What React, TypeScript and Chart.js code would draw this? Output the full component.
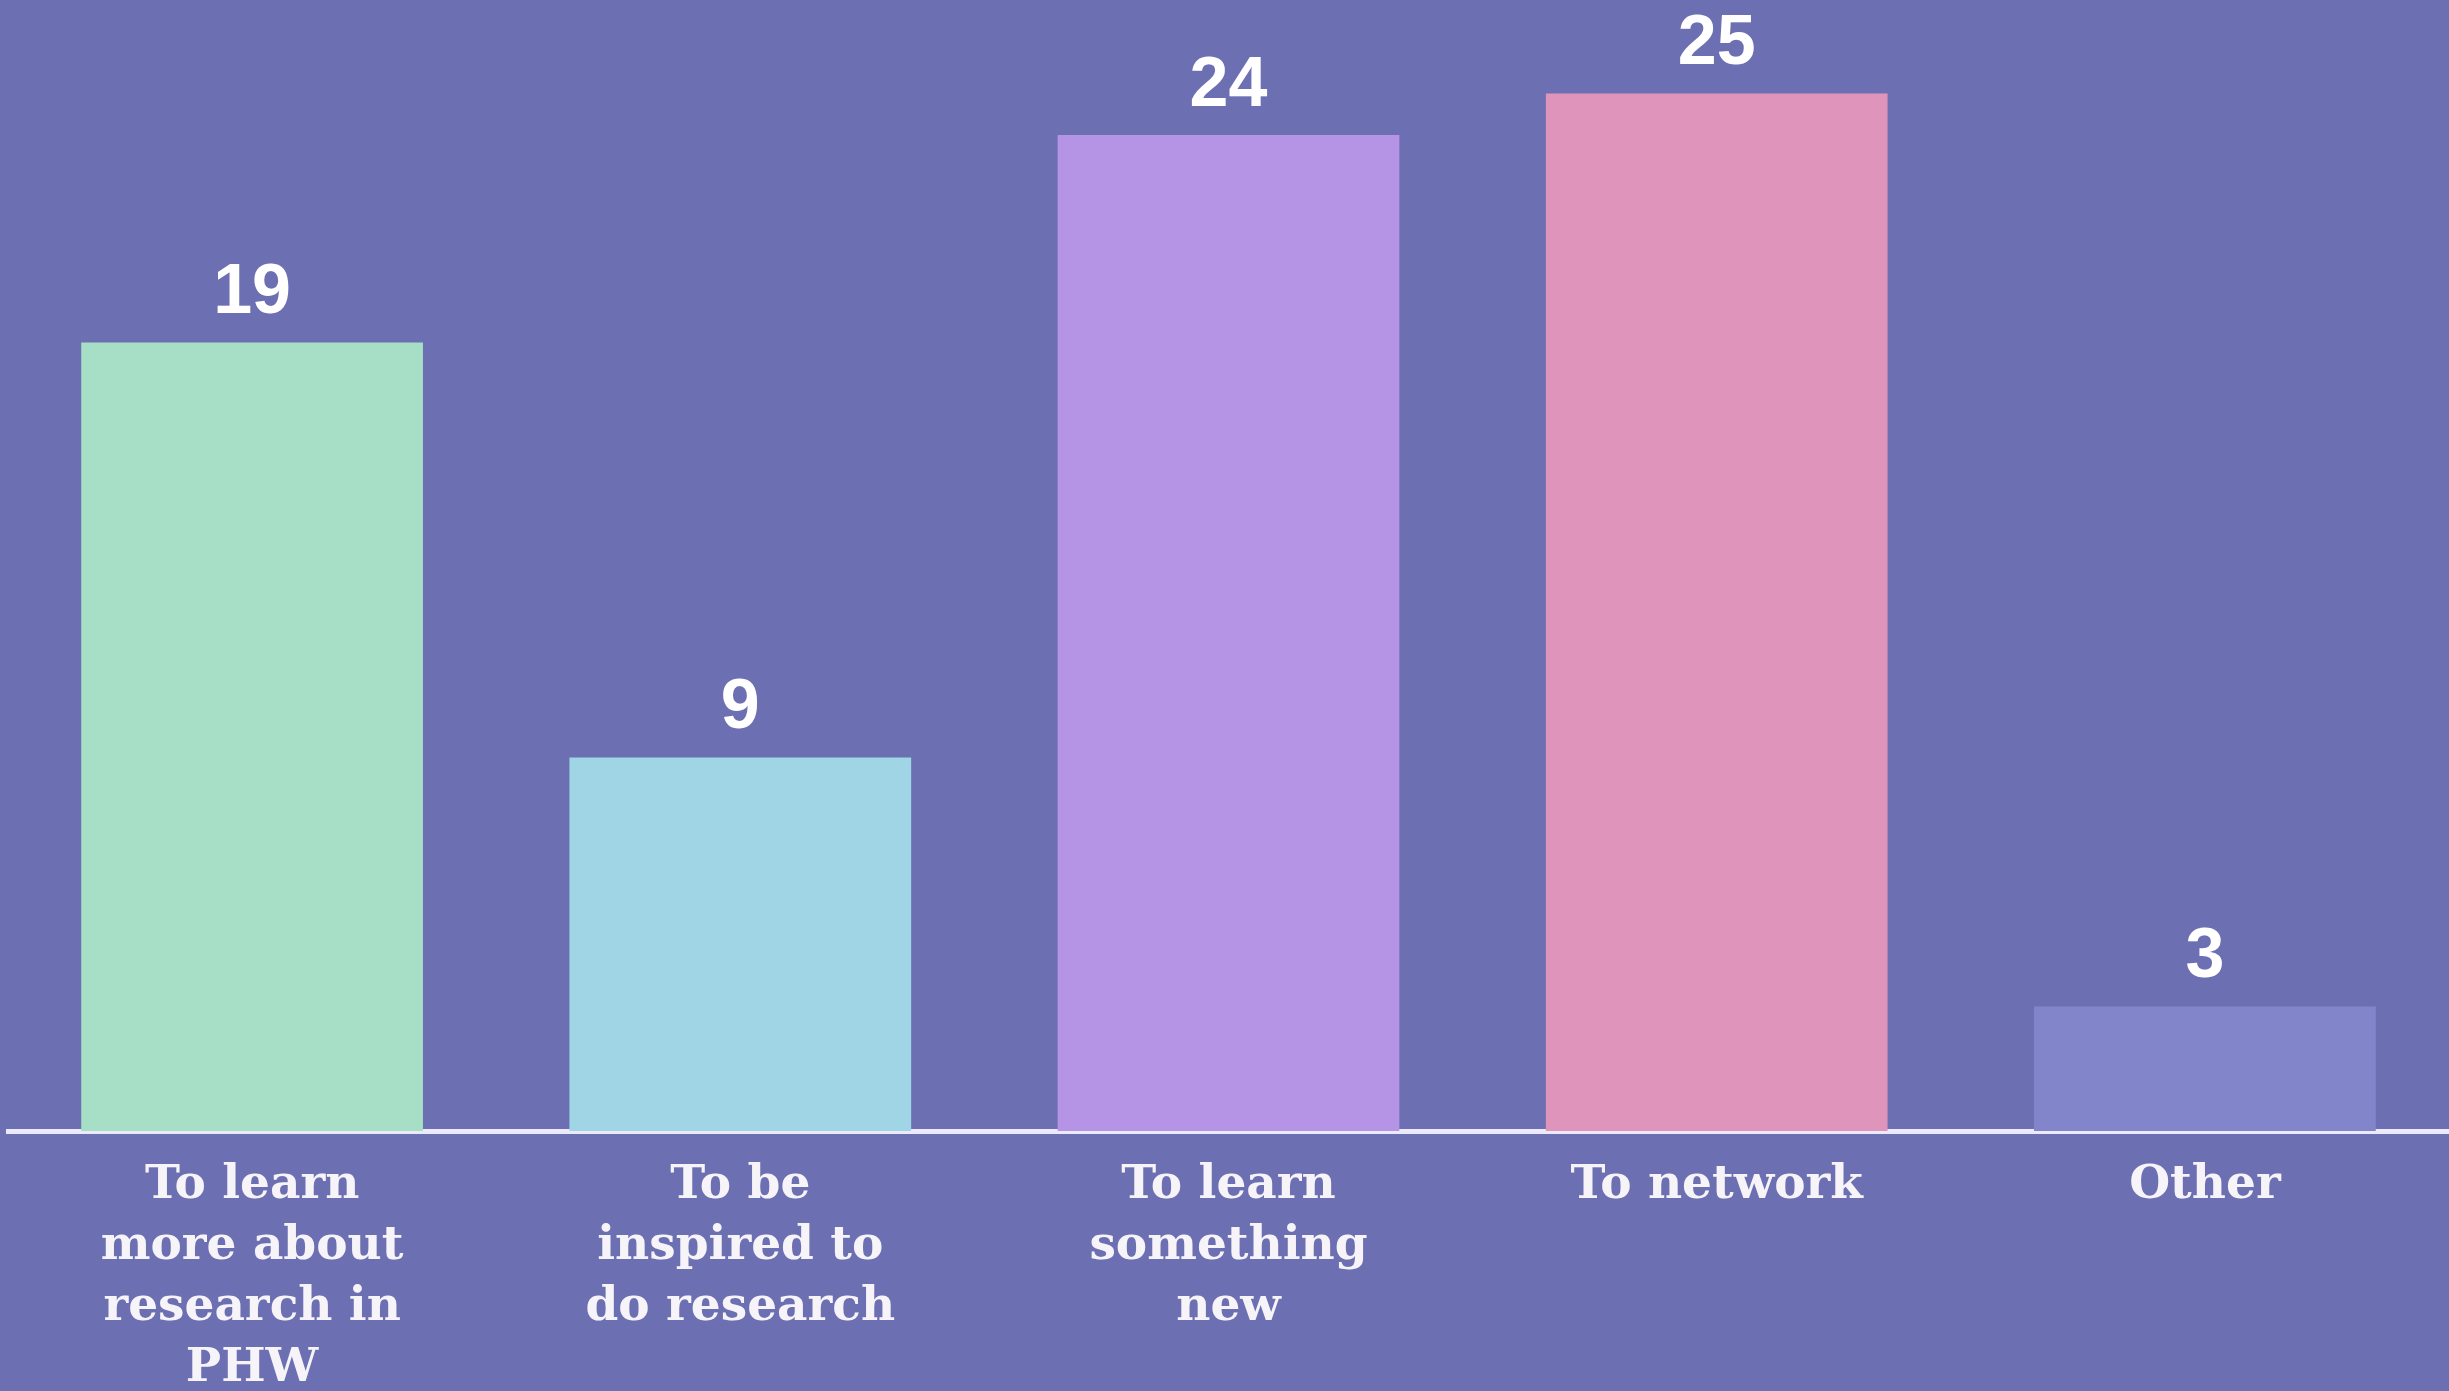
import React, { useEffect, useRef } from "react";
import { Chart, registerables } from "chart.js";

Chart.register(...registerables);

const categories: string[][] = [
  ["To learn", "more about", "research in", "PHW"],
  ["To be", "inspired to", "do research"],
  ["To learn", "something", "new"],
  ["To network"],
  ["Other"],
];
const values: number[] = [19, 9, 24, 25, 3];
const barColors: string[] = ["#a6dfc6", "#a0d5e6", "#b594e5", "#df95bb", "#8285c9"];

const W = 2449;
const H = 1391;

const valueLabelPlugin = {
  id: "valueLabels",
  afterDatasetsDraw(chart: any) {
    const ctx = chart.ctx;
    const meta = chart.getDatasetMeta(0);
    ctx.save();
    ctx.fillStyle = "#ffffff";
    ctx.font = "bold 70px 'Liberation Sans', Arial, sans-serif";
    ctx.textAlign = "center";
    ctx.textBaseline = "alphabetic";
    meta.data.forEach((el: any, i: number) => {
      ctx.fillText(String(values[i]), el.x, el.y - 29);
    });
    ctx.restore();
  },
};

export default function App() {
  const ref = useRef<HTMLCanvasElement | null>(null);
  useEffect(() => {
    if (!ref.current) return;
    const chart = new Chart(ref.current, {
      type: "bar",
      data: {
        labels: categories,
        datasets: [
          {
            data: values,
            backgroundColor: barColors,
            borderWidth: 0,
            barPercentage: 0.7,
            categoryPercentage: 1,
          },
        ],
      },
      options: {
        responsive: false,
        animation: false,
        devicePixelRatio: 1,
        layout: { padding: { left: 8, right: 0, top: 0, bottom: 0 } },
        plugins: { legend: { display: false }, tooltip: { enabled: false } },
        scales: {
          y: { display: false, min: 0, max: 27.25 },
          x: {
            grid: { display: false, drawTicks: false },
            border: { display: true, color: "#eceaf8", width: 5 },
            ticks: {
              color: "#f6f4f8",
              autoSkip: false,
              maxRotation: 0,
              minRotation: 0,
              padding: 24,
              font: {
                family: "'DejaVu Serif', serif",
                weight: "bold",
                size: 47,
                lineHeight: 1.3,
              },
            },
            afterFit: (scale: any) => {
              scale.height = 260;
            },
          },
        },
      },
      plugins: [valueLabelPlugin],
    } as any);
    return () => chart.destroy();
  }, []);
  return (
    <div
      style={{
        position: "fixed",
        left: 0,
        top: 0,
        width: W,
        height: H,
        background: "#6c6fb1",
        overflow: "hidden",
      }}
    >
      <canvas ref={ref} width={W} height={H} style={{ display: "block" }} />
    </div>
  );
}
